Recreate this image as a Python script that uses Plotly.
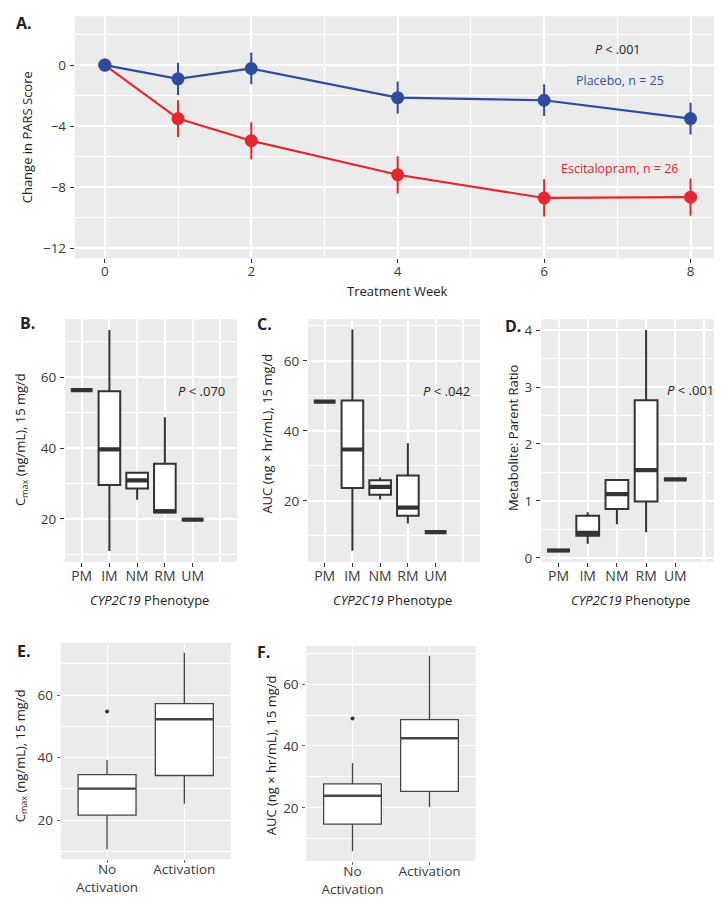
import plotly.graph_objects as go

W, H = 722, 898
FONT = "Open Sans"
DARK = "#333333"

# ---------------- Panel A data ----------------
weeks = [0, 1, 2, 4, 6, 8]
placebo_mean = [0, -0.9, -0.22, -2.13, -2.3, -3.5]
placebo_err = [0, 1.05, 1.04, 1.06, 1.04, 1.04]
escit_mean = [0, -3.5, -4.95, -7.18, -8.7, -8.65]
escit_err = [0, 1.2, 1.21, 1.22, 1.22, 1.22]

# ---------------- Panels B-D data ----------------
phenotypes = ["PM", "IM", "NM", "RM", "UM"]
B_q1 = [56.3, 29.6, 28.6, 21.8, 19.8]
B_med = [56.3, 39.6, 30.9, 22.2, 19.8]
B_q3 = [56.3, 56.0, 33.0, 35.6, 19.8]
B_lo = [56.3, 11.0, 25.4, 21.8, 19.8]
B_hi = [56.3, 73.3, 33.0, 48.7, 19.8]

C_q1 = [48.4, 23.7, 21.8, 15.8, 11.1]
C_med = [48.4, 34.7, 24.0, 18.1, 11.1]
C_q3 = [48.4, 48.7, 25.9, 27.3, 11.1]
C_lo = [48.4, 5.8, 20.4, 13.6, 11.1]
C_hi = [48.4, 69.0, 26.7, 36.5, 11.1]

D_q1 = [0.13, 0.39, 0.86, 0.99, 1.38]
D_med = [0.13, 0.44, 1.12, 1.54, 1.38]
D_q3 = [0.13, 0.74, 1.37, 2.77, 1.38]
D_lo = [0.13, 0.25, 0.59, 0.45, 1.38]
D_hi = [0.13, 0.80, 1.37, 4.0, 1.38]

# ---------------- Panels E-F data ----------------
activation = ["No<br>Activation", "Activation"]
E_q1 = [21.6, 34.3]
E_med = [30.1, 52.3]
E_q3 = [34.6, 57.3]
E_lo = [10.7, 25.3]
E_hi = [39.3, 73.6]
E_out = [54.8]
E_out_group = [0]

F_q1 = [14.7, 25.3]
F_med = [23.9, 42.5]
F_q3 = [27.7, 48.5]
F_lo = [5.9, 20.3]
F_hi = [34.5, 69.2]
F_out = [48.9]
F_out_group = [0]

BLUE = "#2E4C9F"
RED = "#E4262D"

fig = go.Figure()

# Panel A
fig.add_trace(go.Scatter(
    x=weeks, y=escit_mean, mode="lines+markers",
    line=dict(color=RED, width=2.2),
    marker=dict(color=RED, size=13),
    error_y=dict(type="data", array=escit_err, visible=True, color=RED, thickness=2, width=0),
    xaxis="x", yaxis="y", hoverinfo="skip"))
fig.add_trace(go.Scatter(
    x=weeks, y=placebo_mean, mode="lines+markers",
    line=dict(color=BLUE, width=2.2),
    marker=dict(color=BLUE, size=13),
    error_y=dict(type="data", array=placebo_err, visible=True, color=BLUE, thickness=2, width=0),
    xaxis="x", yaxis="y", hoverinfo="skip"))


def add_boxes(ax, q1, med, q3, lo, hi, width, lw, mw, color):
    n = len(q1)
    pos = list(range(n))
    fig.add_trace(go.Box(
        x=pos, q1=q1, median=med, q3=q3, lowerfence=lo, upperfence=hi,
        width=width, fillcolor="white", line=dict(color=color, width=lw),
        whiskerwidth=0, boxpoints=False,
        xaxis="x" + ax, yaxis="y" + ax, hoverinfo="skip"))
    mx, my = [], []
    for i, m in enumerate(med):
        mx += [i - width / 2, i + width / 2, None]
        my += [m, m, None]
    fig.add_trace(go.Scatter(
        x=mx, y=my, mode="lines", line=dict(color=color, width=mw),
        xaxis="x" + ax, yaxis="y" + ax, hoverinfo="skip"))


add_boxes("2", B_q1, B_med, B_q3, B_lo, B_hi, 0.78, 2, 4.2, DARK)
add_boxes("3", C_q1, C_med, C_q3, C_lo, C_hi, 0.78, 2, 4.2, DARK)
add_boxes("4", D_q1, D_med, D_q3, D_lo, D_hi, 0.78, 2, 4.2, DARK)
add_boxes("5", E_q1, E_med, E_q3, E_lo, E_hi, 0.75, 1.3, 2.4, "#444444")
add_boxes("6", F_q1, F_med, F_q3, F_lo, F_hi, 0.75, 1.3, 2.4, "#444444")

fig.add_trace(go.Scatter(x=E_out_group, y=E_out, mode="markers",
                         marker=dict(color="#333333", size=4),
                         xaxis="x5", yaxis="y5", hoverinfo="skip"))
fig.add_trace(go.Scatter(x=F_out_group, y=F_out, mode="markers",
                         marker=dict(color="#333333", size=4),
                         xaxis="x6", yaxis="y6", hoverinfo="skip"))


def px_x(a, b):
    return [a / W, b / W]


def px_y(top, bottom):
    return [1 - bottom / H, 1 - top / H]


tickfont = dict(family=FONT, size=13.5, color="#3a3a3a")
catfont = dict(family=FONT, size=14, color="#3a3a3a")
catfont_ef = dict(family=FONT, size=13.5, color="#3a3a3a")
common = dict(showline=False, zeroline=False, gridcolor="white",
              ticks="outside", tickcolor=DARK, tickwidth=1.4, ticklen=4)

layout = dict(
    width=W, height=H, margin=dict(l=0, r=0, t=0, b=0),
    paper_bgcolor="white", plot_bgcolor="#EBEBEB", showlegend=False,
    font=dict(family=FONT, color="#222"),
)

# Panel A axes
layout["xaxis"] = dict(domain=px_x(66.8, 713.3), anchor="y", range=[-0.41, 8.42],
                       tickvals=[0, 2, 4, 6, 8], gridwidth=1.6, tickfont=tickfont,
                       ticklabelstandoff=-3,
                       minor=dict(dtick=1, tick0=0, showgrid=True, gridcolor="white", gridwidth=0.8, ticks=""),
                       **common)
layout["yaxis"] = dict(domain=px_y(8.3, 251.7), anchor="x", range=[-12.65, 3.2],
                       tickvals=[-12, -8, -4, 0], gridwidth=1.6, tickfont=tickfont,
                       ticklabelstandoff=1,
                       minor=dict(dtick=2, tick0=0, showgrid=True, gridcolor="white", gridwidth=0.8, ticks=""),
                       **common)

# B-D
panels_bd = [
    ("2", (57, 229), [7.9, 76.3], [20, 40, 60], 10),
    ("3", (300, 472), [2.6, 71.9], [20, 40, 60], 10),
    ("4", (533, 714), [-0.07, 4.19], [0, 1, 2, 3, 4], 0.5),
]
for ax, (xa, xb), yr, yt, ymin in panels_bd:
    layout["xaxis" + ax] = dict(domain=px_x(xa, xb), anchor="y" + ax, range=[-0.6, 5.6],
                                tickvals=list(range(5)), ticktext=phenotypes, gridwidth=1.5,
                                tickfont=catfont, ticklabelstandoff=-3,
                                minor=dict(tickvals=[5], showgrid=True, gridcolor="white", gridwidth=1.5, ticks=""),
                                **common)
    layout["yaxis" + ax] = dict(domain=px_y(313, 557), anchor="x" + ax, range=yr,
                                tickvals=yt, gridwidth=1.5, tickfont=tickfont,
                                ticklabelstandoff=1,
                                minor=dict(dtick=ymin, tick0=0, showgrid=True, gridcolor="white", gridwidth=0.8, ticks=""),
                                **common)

# E-F
common_ef = dict(common)
common_ef.update(tickcolor="#666666", tickwidth=1, ticklen=3)
panels_ef = [
    ("5", (52.7, 222.7), (638.3, 856), [7.5, 76.8]),
    ("6", (298.3, 467.7), (641.7, 857.7), [2.8, 72.3]),
]
for ax, (xa, xb), (yt_, yb_), yr in panels_ef:
    layout["xaxis" + ax] = dict(domain=px_x(xa, xb), anchor="y" + ax, range=[-0.6, 1.6],
                                tickvals=[0, 1], ticktext=activation, gridwidth=1.3,
                                tickfont=catfont_ef, ticklabelstandoff=-5, **common_ef)
    layout["yaxis" + ax] = dict(domain=px_y(yt_, yb_), anchor="x" + ax, range=yr,
                                tickvals=[20, 40, 60], gridwidth=1.3, tickfont=tickfont,
                                ticklabelstandoff=1,
                                minor=dict(dtick=10, tick0=0, showgrid=True, gridcolor="white", gridwidth=0.7, ticks=""),
                                **common_ef)

fig.update_layout(**layout)

ann = []


def pa(text, x, y, size=13, angle=0, bold=False, color="#222222"):
    if bold:
        text = "<b>" + text + "</b>"
    ann.append(dict(text=text, x=x / W, y=1 - y / H, xref="paper", yref="paper",
                    showarrow=False, xanchor="center", yanchor="middle", textangle=angle,
                    font=dict(family=FONT, size=size, color=color)))


def da(text, x, y, ax, size=13, color="#222222"):
    ann.append(dict(text=text, x=x, y=y, xref="x" + ax, yref="y" + ax, showarrow=False,
                    xanchor="center", yanchor="middle",
                    font=dict(family=FONT, size=size, color=color)))


# Panel letters
pa("A.", 16, 15, size=16, bold=True)
pa("B.", 19, 317, size=16, bold=True)
pa("C.", 256, 318, size=16, bold=True)
pa("D.", 505, 320, size=16, bold=True)
pa("E.", 16, 647, size=16, bold=True)
pa("F.", 255, 648, size=16, bold=True)

# Axis titles
pa("Change in PARS Score", 19, 130, size=13, angle=-90)
pa("Treatment Week", 390, 285, size=13)
pa("C<sub>max</sub> (ng/mL), 15 mg/d", 12.5, 434, size=13, angle=-90)
pa("AUC (ng × hr/mL), 15 mg/d", 259, 428, size=13, angle=-90)
pa("Metabolite: Parent Ratio", 504.5, 432, size=13, angle=-90)
pa("<i>CYP2C19</i> Phenotype", 141, 595, size=13)
pa("<i>CYP2C19</i> Phenotype", 384, 595, size=13)
pa("<i>CYP2C19</i> Phenotype", 622, 595, size=13)
pa("C<sub>max</sub> (ng/mL), 15 mg/d", 12.5, 752, size=13, angle=-90)
pa("AUC (ng × hr/mL), 15 mg/d", 262.5, 752, size=13, angle=-90)

# In-panel texts
da("<i>P</i> < .001", 7.0, 1.0, "", size=12.5)
da("Placebo, n = 25", 7.03, -0.98, "", size=12.5, color="#3551A3")
da("Escitalopram, n = 26", 7.03, -6.8, "", size=12.5, color="#E1262D")
da("<i>P</i> < .070", 4.33, 56, "2", size=13)
da("<i>P</i> < .042", 4.39, 51.5, "3", size=13)
da("<i>P</i> < .001", 4.53, 2.95, "4", size=13)

fig.update_layout(annotations=ann)

fig.write_html("out.html")
